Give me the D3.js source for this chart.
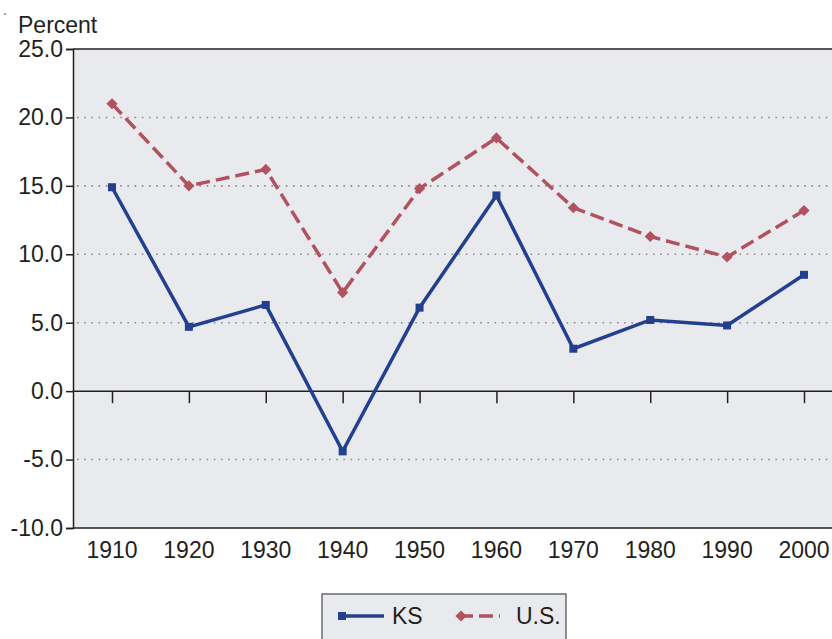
<!DOCTYPE html>
<html>
<head>
<meta charset="utf-8">
<script src="https://cdn.jsdelivr.net/npm/d3@7"></script>
<style>
  body { margin: 0; background: #fff; }
  svg { font-family: "Liberation Sans", Arial, sans-serif; }
</style>
</head>
<body>
<svg width="832" height="639"></svg>
<script>
// data
const years = [1910, 1920, 1930, 1940, 1950, 1960, 1970, 1980, 1990, 2000]
const ksValues = [14.9, 4.7, 6.3, -4.4, 6.1, 14.3, 3.1, 5.2, 4.8, 8.5]
const usValues = [21.0, 15.0, 16.2, 7.2, 14.8, 18.5, 13.4, 11.3, 9.8, 13.2]
const yTicks = [25, 20, 15, 10, 5, 0, -5, -10]

const blue = '#233f8f'
const red = '#b0525f'
const panel = '#e9eaed'
const ink = '#231f20'
const fontSize = '23px'

let svg = d3.select('svg')
let margin = { top: 49, right: 0, bottom: 111, left: 73 }
let width = +svg.attr('width')
let height = +svg.attr('height')

let x = d3.scalePoint()
  .domain(years)
  .range([112, 804])

let y = d3.scaleLinear()
  .domain([-10, 25])
  .range([height - margin.bottom, margin.top])

// plot background
svg.append('rect')
  .attr('x', margin.left)
  .attr('y', y(25))
  .attr('width', width - margin.left)
  .attr('height', y(-10) - y(25))
  .attr('fill', panel)

// dotted grid lines
svg.append('g')
  .selectAll('line')
  .data(yTicks.filter(d => d !== 0 && d !== 25 && d !== -10))
  .enter()
  .append('line')
  .attr('x1', margin.left + 4)
  .attr('x2', width)
  .attr('y1', d => y(d))
  .attr('y2', d => y(d))
  .attr('stroke', '#8a8a8a')
  .attr('stroke-width', 1.6)
  .attr('stroke-dasharray', '1.6,5.6')

// frame lines: top and bottom
svg.append('line')
  .attr('x1', margin.left).attr('x2', width)
  .attr('y1', y(25)).attr('y2', y(25))
  .attr('stroke', ink).attr('stroke-width', 1.5)
svg.append('line')
  .attr('x1', margin.left).attr('x2', width)
  .attr('y1', y(-10)).attr('y2', y(-10))
  .attr('stroke', ink).attr('stroke-width', 1.5)

// y axis
let yAxis = svg.append('g')
  .attr('transform', 'translate(' + margin.left + ',0)')
  .call(d3.axisLeft(y).tickValues(yTicks).tickSize(7).tickPadding(3))
yAxis.attr('font-size', null).attr('font-family', null)
yAxis.select('.domain').attr('stroke', ink).attr('stroke-width', 1.5)
yAxis.selectAll('.tick line').attr('stroke', ink).attr('stroke-width', 1.5)
yAxis.selectAll('.tick text')
  .attr('fill', ink)
  .style('font-size', fontSize)
  .text(d => d3.format('.1f')(d).replace('−', '-'))

// zero line with ticks pointing down
let xAxis = svg.append('g')
  .attr('transform', 'translate(0,' + y(0) + ')')
  .call(d3.axisBottom(x).tickSize(12).tickFormat(''))
xAxis.select('.domain')
  .attr('d', 'M' + margin.left + ',0H' + width)
  .attr('stroke', ink).attr('stroke-width', 1.5)
xAxis.selectAll('.tick line').attr('stroke', ink).attr('stroke-width', 1.5)

// x labels below the panel
svg.append('g')
  .selectAll('text')
  .data(years)
  .enter()
  .append('text')
  .attr('x', d => x(d))
  .attr('y', 558)
  .attr('text-anchor', 'middle')
  .attr('fill', ink)
  .style('font-size', fontSize)
  .text(d => d)

// axis title
svg.append('text')
  .attr('x', 18)
  .attr('y', 33)
  .attr('fill', ink)
  .style('font-size', fontSize)
  .text('Percent')

svg.append('circle').attr('cx', 5).attr('cy', 14).attr('r', 0.8).attr('fill', ink)

// series lines
let line = d3.line()
  .x((d, i) => x(years[i]))
  .y(d => y(d))

svg.append('path')
  .datum(usValues)
  .attr('d', line)
  .attr('fill', 'none')
  .attr('stroke', red)
  .attr('stroke-width', 3.5)
  .attr('stroke-dasharray', '14,6')

svg.append('path')
  .datum(ksValues)
  .attr('d', line)
  .attr('fill', 'none')
  .attr('stroke', blue)
  .attr('stroke-width', 3.5)

// markers
let diamond = d3.symbol().type(d3.symbolDiamond2).size(80)
svg.append('g')
  .selectAll('path')
  .data(usValues)
  .enter()
  .append('path')
  .attr('d', diamond)
  .attr('transform', (d, i) => 'translate(' + x(years[i]) + ',' + y(d) + ')')
  .attr('fill', red)

svg.append('g')
  .selectAll('rect')
  .data(ksValues)
  .enter()
  .append('rect')
  .attr('x', (d, i) => x(years[i]) - 4)
  .attr('y', d => y(d) - 4)
  .attr('width', 8)
  .attr('height', 8)
  .attr('fill', blue)

// legend
let legend = svg.append('g')
legend.append('rect')
  .attr('x', 322).attr('y', 594)
  .attr('width', 244).attr('height', 60)
  .attr('fill', panel)
  .attr('stroke', '#4a4a4a')
  .attr('stroke-width', 1.2)
legend.append('line')
  .attr('x1', 340).attr('x2', 384).attr('y1', 616).attr('y2', 616)
  .attr('stroke', blue).attr('stroke-width', 3.5)
legend.append('rect')
  .attr('x', 338).attr('y', 612).attr('width', 8).attr('height', 8)
  .attr('fill', blue)
legend.append('text')
  .attr('x', 392).attr('y', 624)
  .attr('fill', ink).style('font-size', fontSize)
  .text('KS')
legend.append('line')
  .attr('x1', 459).attr('x2', 500).attr('y1', 616).attr('y2', 616)
  .attr('stroke', red).attr('stroke-width', 3.5)
  .attr('stroke-dasharray', '14,6')
legend.append('path')
  .attr('d', diamond)
  .attr('transform', 'translate(461,616)')
  .attr('fill', red)
legend.append('text')
  .attr('x', 516).attr('y', 624)
  .attr('fill', ink).style('font-size', fontSize)
  .text('U.S.')
</script>
</body>
</html>
